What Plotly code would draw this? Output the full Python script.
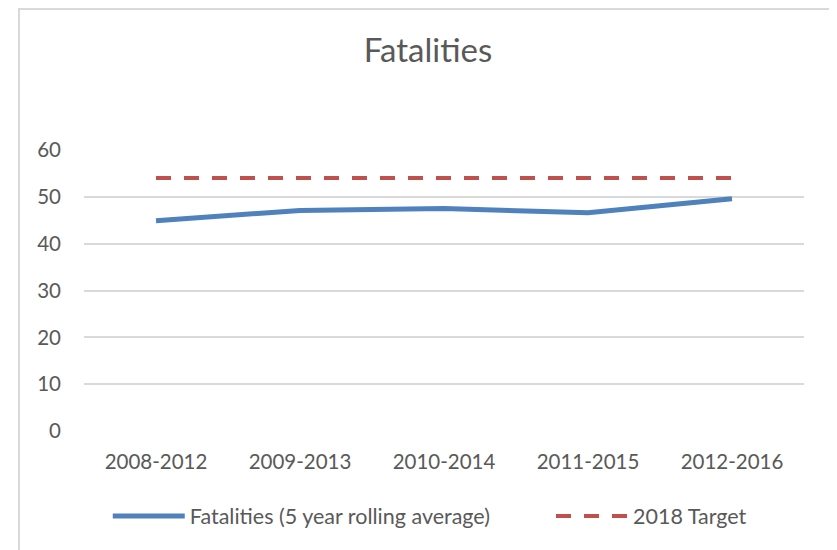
import plotly.graph_objects as go

# Dados
periodos = ['2008-2012', '2009-2013', '2010-2014', '2011-2015', '2012-2016']
fatalidades = [44.9, 47.1, 47.5, 46.6, 49.6]
meta_2018 = [54, 54, 54, 54, 54]

cinza = '#595959'
fonte = 'Lato, Open Sans, sans-serif'

fig = go.Figure()
fig.add_trace(go.Scatter(x=periodos, y=fatalidades,
                         name='Fatalities (5 year rolling average)',
                         mode='lines',
                         line=dict(color='#4f81bd', width=5)))
fig.add_trace(go.Scatter(x=periodos, y=meta_2018,
                         name='2018 Target',
                         mode='lines', legend='legend2',
                         line=dict(color='#c0504d', width=4, dash='15px,13px')))

# a página tem 8px de margem no body, por isso tudo é deslocado
leg = dict(orientation='h', xanchor='left', y=-0.3025, yanchor='middle',
           itemwidth=72, font=dict(size=21.5, color=cinza))

fig.update_layout(width=829, height=542,
                  margin=dict(l=76, r=33, t=142, b=119),
                  paper_bgcolor='white', plot_bgcolor='white',
                  font=dict(family=fonte, color=cinza, size=20.5),
                  title=dict(text='Fatalities', x=0.5066, xanchor='center',
                             y=0.9225, yanchor='middle',
                             font=dict(size=33, color=cinza)),
                  legend=dict(leg, x=0.033),
                  legend2=dict(leg, x=0.6486),
                  showlegend=True)

fig.update_yaxes(range=[0, 60], dtick=10, showgrid=True, gridcolor='#d9d9d9',
                 gridwidth=1.5, zeroline=False, showline=False,
                 ticks='', ticklabelstandoff=22, automargin=False)
fig.update_xaxes(range=[-0.5, 4.5], showgrid=False, showline=False, zeroline=False,
                 ticks='', ticklabelstandoff=16, automargin=False)

# Borda da área do gráfico
fig.add_shape(type='rect', xref='paper', yref='paper',
              x0=-0.0903, x1=1.045, y0=-0.5, y1=1.5018,
              line=dict(color='#d9d9d9', width=2), layer='below')

fig.write_html('out.html')
